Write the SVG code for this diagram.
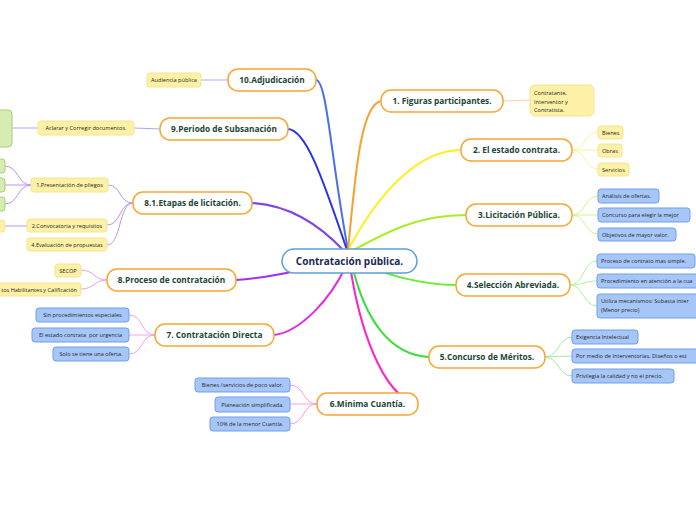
<svg xmlns="http://www.w3.org/2000/svg" width="696" height="520" viewBox="0 0 696 520">
<style>
text{font-family:"Open Sans","Noto Sans","DejaVu Sans",sans-serif}
.main rect{fill:#fff;stroke:#f8a632;stroke-width:1.5}
.main text{font-size:8.3px;font-weight:bold;fill:#1b4636;text-anchor:middle}
.y rect{fill:#fdf1a8;stroke:#f6e38e;stroke-width:1}
.b rect{fill:#a6c6f8;stroke:#6f9fee;stroke-width:1}
.g rect{fill:#d6ecb2;stroke:#a6d26a;stroke-width:1}
.s text{font-size:5.6px;fill:#262626}
.c text{text-anchor:middle}
.l text{text-anchor:start}
.r text{text-anchor:end}
#connectors path{fill:none;stroke-linecap:round}
.m{stroke-width:2}
.k{stroke-width:1}
</style>
<rect width="696" height="520" fill="#fff"/>
<g id="connectors">
  <path class="m" stroke="#4a6ef2" d="M316,80 C327,80 331,160 348,250"/>
  <path class="m" stroke="#3030e8" d="M288,129 C305,130 320,170 347,250"/>
  <path class="m" stroke="#7c44ec" d="M252,203 C290,205 320,225 345,252"/>
  <path class="m" stroke="#a030ee" d="M236,280 C270,278 305,270 348,258"/>
  <path class="m" stroke="#e02ce6" d="M274,335 C300,332 330,300 346,266"/>
  <path class="m" stroke="#ff22cc" d="M350,265 C358,320 380,395 417,404"/>
  <path class="m" stroke="#33e033" d="M352,265 C365,320 390,355 429,357"/>
  <path class="m" stroke="#66ee33" d="M352,262 C390,275 420,285 456,285"/>
  <path class="m" stroke="#aaee22" d="M350,252 C390,230 420,215 466,215"/>
  <path class="m" stroke="#ffee22" d="M348,250 C380,190 420,150 461,150"/>
  <path class="m" stroke="#f8a030" d="M348,250 C355,180 360,105 381,101"/>
  <path class="k" stroke="#9fb2ff" d="M201,80 L228,80"/>
  <path class="k" stroke="#aaa4f6" d="M134,128 L160,129"/>
  <path class="k" stroke="#aaa4f6" d="M12,128 L38,128"/>
  <path class="k" stroke="#b896f2" d="M133,203 C118,203 122,185 108,185"/>
  <path class="k" stroke="#b896f2" d="M133,203 C118,203 122,225 107,225"/>
  <path class="k" stroke="#b896f2" d="M133,203 C118,203 122,245 107,245"/>
  <path class="k" stroke="#b896f2" d="M31,185 C17,185 19,166 5,166"/>
  <path class="k" stroke="#b896f2" d="M31,185 L5,185"/>
  <path class="k" stroke="#b896f2" d="M31,185 C17,185 19,204 5,204"/>
  <path class="k" stroke="#b896f2" d="M27,226 L5,226"/>
  <path class="k" stroke="#d9a2f8" d="M107,280 C93,280 95,270 81,270"/>
  <path class="k" stroke="#d9a2f8" d="M107,280 C93,280 95,289 81,289"/>
  <path class="k" stroke="#f2a2f2" d="M155,335 C140,335 144,315 129,315"/>
  <path class="k" stroke="#f2a2f2" d="M155,335 L129,335"/>
  <path class="k" stroke="#f2a2f2" d="M155,335 C140,335 144,354 129,354"/>
  <path class="k" stroke="#ff9ade" d="M317,404 C302,404 305,385 290,385"/>
  <path class="k" stroke="#ff9ade" d="M317,404 L290,404"/>
  <path class="k" stroke="#ff9ade" d="M317,404 C302,404 305,424 290,424"/>
  <path class="k" stroke="#ffd2a4" d="M503,101 L530,100"/>
  <path class="k" stroke="#fff09a" d="M572,150 C586,150 584,132 598,132"/>
  <path class="k" stroke="#fff09a" d="M572,150 L598,150"/>
  <path class="k" stroke="#fff09a" d="M572,150 C586,150 584,169 598,169"/>
  <path class="k" stroke="#d2f290" d="M572,215 C586,215 584,196 598,196"/>
  <path class="k" stroke="#d2f290" d="M572,215 L598,215"/>
  <path class="k" stroke="#d2f290" d="M572,215 C586,215 584,234 598,234"/>
  <path class="k" stroke="#b0f29a" d="M570,285 C584,285 583,261 597,261"/>
  <path class="k" stroke="#b0f29a" d="M570,285 C584,285 583,281 597,281"/>
  <path class="k" stroke="#b0f29a" d="M570,285 C584,285 583,306 597,306"/>
  <path class="k" stroke="#9cee9c" d="M545,357 C559,357 558,337 572,337"/>
  <path class="k" stroke="#9cee9c" d="M545,357 L572,356"/>
  <path class="k" stroke="#9cee9c" d="M545,357 C559,357 558,376 572,376"/>
</g>
<g id="center">
  <rect x="282" y="249" width="135" height="24" rx="12" fill="#fff" stroke="#5ba0d8" stroke-width="1.5"/>
  <text x="349.5" y="264.5" font-size="10px" font-weight="bold" fill="#1b2a52" text-anchor="middle">Contratación pública.</text>
</g>
<g id="n10" class="main"><rect x="228" y="69" width="88" height="22" rx="10"/><text x="272" y="83">10.Adjudicación</text></g>
<g id="n9" class="main"><rect x="160" y="118" width="128" height="22" rx="10"/><text x="224" y="132">9.Periodo de Subsanación</text></g>
<g id="n81" class="main"><rect x="133" y="192" width="119" height="22" rx="10"/><text x="192.5" y="206">8.1.Etapas de licitación.</text></g>
<g id="n8" class="main"><rect x="107" y="269" width="129" height="22" rx="10"/><text x="171.5" y="283">8.Proceso de contratación</text></g>
<g id="n7" class="main"><rect x="155" y="324" width="119" height="22" rx="10"/><text x="214.5" y="338">7. Contratación Directa</text></g>
<g id="n6" class="main"><rect x="317" y="393" width="101" height="22" rx="10"/><text x="367.5" y="407">6.Minima Cuantía.</text></g>
<g id="n1" class="main"><rect x="381" y="90" width="122" height="22" rx="10"/><text x="442" y="104">1. Figuras participantes.</text></g>
<g id="n2" class="main"><rect x="461" y="139" width="111" height="22" rx="10"/><text x="516.5" y="153">2. El estado contrata.</text></g>
<g id="n3" class="main"><rect x="466" y="204" width="106" height="22" rx="10"/><text x="519" y="218">3.Licitación Pública.</text></g>
<g id="n4" class="main"><rect x="456" y="274" width="114" height="22" rx="10"/><text x="513" y="288">4.Selección Abreviada.</text></g>
<g id="n5" class="main"><rect x="429" y="346" width="116" height="22" rx="10"/><text x="487" y="360">5.Concurso de Méritos.</text></g>

<g id="s-audiencia" class="s y c"><rect x="147" y="73" width="54" height="14" rx="3"/><text x="174" y="82">Audiencia pública</text></g>
<g id="s-aclarar" class="s y c"><rect x="38" y="121" width="96" height="14" rx="3"/><text x="86" y="130">Aclarar y Corregir documentos.</text></g>
<g id="s-green1" class="s g"><rect x="-10" y="110" width="22" height="37" rx="4"/></g>
<g id="s-pliegos" class="s y c"><rect x="31" y="178" width="77" height="14" rx="3"/><text x="69.5" y="187">1.Presentación de pliegos</text></g>
<g id="s-g2" class="s g"><rect x="-10" y="159" width="15" height="14" rx="3"/></g>
<g id="s-g3" class="s g"><rect x="-10" y="178" width="15" height="14" rx="3"/></g>
<g id="s-g4" class="s g"><rect x="-10" y="197" width="15" height="14" rx="3"/></g>
<g id="s-y5" class="s y"><rect x="-10" y="220" width="15" height="12" rx="3"/></g>
<g id="s-convoc" class="s y c"><rect x="27" y="219" width="80" height="13" rx="3"/><text x="67" y="228">2.Convocatoria y requisitos</text></g>
<g id="s-eval" class="s y c"><rect x="27" y="238" width="80" height="13" rx="3"/><text x="67" y="247">4.Evaluación de propuestas</text></g>
<g id="s-secop" class="s y c"><rect x="55" y="264" width="26" height="13" rx="3"/><text x="68" y="273">SECOP</text></g>
<g id="s-req" class="s y r"><rect x="-10" y="283" width="91" height="13" rx="3"/><text x="77" y="292">tos Habilitantes y Calificación</text></g>
<g id="s-sin" class="s b c"><rect x="36" y="308" width="93" height="14" rx="3"/><text x="82.5" y="317">Sin procedimientos especiales</text></g>
<g id="s-urg" class="s b c"><rect x="32" y="328" width="97" height="14" rx="3"/><text x="80.5" y="337" style="white-space:pre">El estado contrata  por urgencia</text></g>
<g id="s-solo" class="s b c"><rect x="53" y="347" width="76" height="14" rx="3"/><text x="91" y="356">Solo se tiene una oferta.</text></g>
<g id="s-bsv" class="s b c"><rect x="195" y="378" width="95" height="14" rx="3"/><text x="242.5" y="387">Bienes /servicios de poco valor.</text></g>
<g id="s-plan" class="s b c"><rect x="215" y="397" width="75" height="15" rx="3"/><text x="252.5" y="406.5">Planeación simplificada.</text></g>
<g id="s-10" class="s b c"><rect x="210" y="417" width="80" height="14" rx="3"/><text x="250" y="426">10% de la menor Cuantía.</text></g>

<g id="s-figuras" class="s y l"><rect x="530" y="85" width="64" height="31" rx="5"/><text x="534" y="95">Contratante,</text><text x="534" y="103.5">Interventor y</text><text x="534" y="112">Contratista.</text></g>
<g id="s-bienes" class="s y l"><rect x="598" y="126" width="25" height="13" rx="3"/><text x="602" y="134.5">Bienes</text></g>
<g id="s-obras" class="s y l"><rect x="598" y="144" width="24" height="13" rx="3"/><text x="602" y="152.5">Obras</text></g>
<g id="s-serv" class="s y l"><rect x="598" y="163" width="31" height="13" rx="3"/><text x="602" y="171.5">Servicios</text></g>
<g id="s-anal" class="s b l"><rect x="598" y="189" width="61" height="14" rx="3"/><text x="602" y="198">Análisis de ofertas.</text></g>
<g id="s-conc" class="s b l"><rect x="598" y="208" width="92" height="14" rx="3"/><text x="602" y="217">Concurso para elegir la mejor</text></g>
<g id="s-obj" class="s b l"><rect x="598" y="228" width="78" height="13" rx="3"/><text x="602" y="236.5">Objetivos de mayor valor.</text></g>
<g id="s-proc" class="s b l"><rect x="597" y="254" width="98" height="14" rx="3"/><text x="601" y="263">Proceso de contrato mas simple.</text></g>
<g id="s-proced" class="s b l"><rect x="597" y="274" width="110" height="14" rx="3"/><text x="601" y="283">Procedimiento en atención a la cua</text></g>
<g id="s-util" class="s b l"><rect x="597" y="294" width="110" height="24" rx="3"/><text x="601" y="303">Utiliza mecanismos: Subasta inter</text><text x="601" y="311.5">(Menor precio)</text></g>
<g id="s-exig" class="s b l"><rect x="572" y="330" width="66" height="14" rx="3"/><text x="576" y="339">Exigencia Intelectual</text></g>
<g id="s-pormedio" class="s b l"><rect x="572" y="349" width="130" height="14" rx="3"/><text x="576" y="358">Por medio de Interventorías, Diseños o est</text></g>
<g id="s-priv" class="s b l"><rect x="572" y="369" width="102" height="14" rx="3"/><text x="576" y="378">Privilegia la calidad y no el precio.</text></g>
</svg>
